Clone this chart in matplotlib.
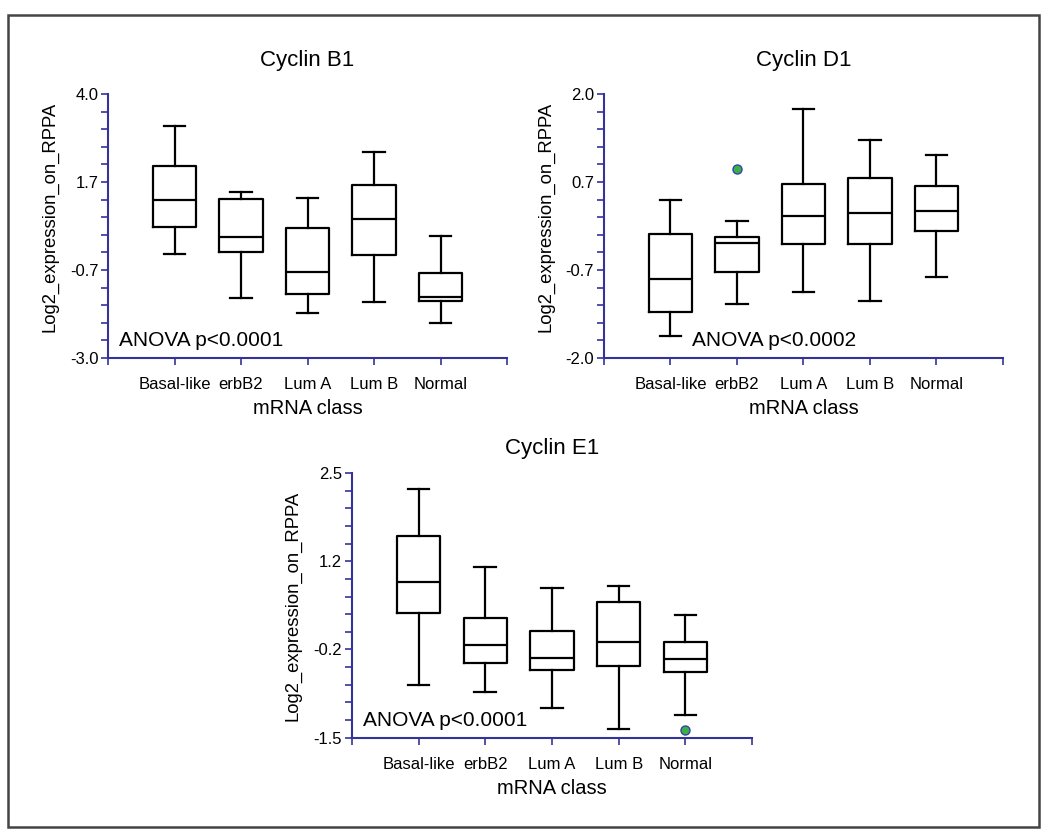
import matplotlib
matplotlib.use("Agg")
import matplotlib.pyplot as plt
from matplotlib.patches import Rectangle
from matplotlib.ticker import FixedLocator, AutoMinorLocator, FormatStrFormatter

plt.rcParams['font.family'] = ['Liberation Sans', 'DejaVu Sans']

categories = ['Basal-like', 'erbB2', 'Lum A', 'Lum B', 'Normal']

# Cyclin B1
b1_lo = [-0.23, -1.40, -1.82, -1.52, -2.07]
b1_q1 = [0.48, -0.20, -1.29, -0.27, -1.49]
b1_med = [1.19, 0.22, -0.71, 0.69, -1.38]
b1_q3 = [2.10, 1.22, 0.45, 1.59, -0.74]
b1_hi = [3.16, 1.39, 1.24, 2.47, 0.24]
b1_fliers = [[], [], [], [], []]

# Cyclin D1
d1_lo = [-1.67, -1.18, -1.00, -1.14, -0.78]
d1_q1 = [-1.31, -0.70, -0.27, -0.27, -0.08]
d1_med = [-0.80, -0.26, 0.15, 0.19, 0.22]
d1_q3 = [-0.12, -0.16, 0.63, 0.73, 0.60]
d1_hi = [0.40, 0.07, 1.77, 1.31, 1.07]
d1_fliers = [[], [0.87], [], [], []]

# Cyclin E1
e1_lo = [-0.71, -0.81, -1.05, -1.37, -1.16]
e1_q1 = [0.38, -0.37, -0.48, -0.42, -0.50]
e1_med = [0.85, -0.10, -0.29, -0.06, -0.31]
e1_q3 = [1.55, 0.31, 0.12, 0.55, -0.05]
e1_hi = [2.26, 1.08, 0.76, 0.80, 0.35]
e1_fliers = [[], [], [], [], [-1.38]]

axis_blue = '#33339a'

# title, stats..., (top, bottom), anova text, anova x, title pad, ylabel y
panels = [
    ('Cyclin B1', b1_lo, b1_q1, b1_med, b1_q3, b1_hi, b1_fliers, (4.0, -3.0), 'ANOVA p<0.0001', 0.028, 20, 0.535),
    ('Cyclin D1', d1_lo, d1_q1, d1_med, d1_q3, d1_hi, d1_fliers, (2.0, -2.0), 'ANOVA p<0.0002', 0.22, 20, 0.535),
    ('Cyclin E1', e1_lo, e1_q1, e1_med, e1_q3, e1_hi, e1_fliers, (2.5, -1.5), 'ANOVA p<0.0001', 0.028, 14, 0.5),
]
rects = [
    [0.1029, 0.5733, 0.380, 0.3147],
    [0.5752, 0.5733, 0.380, 0.3147],
    [0.3352, 0.1207, 0.381, 0.3155],
]

fig = plt.figure(figsize=(10.5, 8.39), dpi=100)
fig.patches.append(Rectangle((0.0075, 0.0145), 0.982, 0.968, transform=fig.transFigure,
                             fill=False, edgecolor='#444444', linewidth=1.8))

for (title, lo, q1, med, q3, hi, fl, (top, bot), anova, ax_x, tpad, ly), rect in zip(panels, rects):
    ax = fig.add_axes(rect)
    stats = []
    for i, c in enumerate(categories):
        stats.append(dict(label=c, whislo=lo[i], q1=q1[i], med=med[i], q3=q3[i],
                          whishi=hi[i], fliers=fl[i]))
    ax.bxp(stats, positions=range(1, 6), widths=0.65, showfliers=True,
           boxprops=dict(color='black', linewidth=1.6),
           medianprops=dict(color='black', linewidth=1.6),
           whiskerprops=dict(color='black', linewidth=1.6),
           capprops=dict(color='black', linewidth=1.6),
           flierprops=dict(marker='o', markerfacecolor='#3cb043', markeredgecolor='#3344aa',
                           markersize=6.5, markeredgewidth=1.0))
    ax.set_xlim(0, 6)
    ax.set_ylim(bot, top)
    step = (top - bot) / 3
    ax.yaxis.set_major_locator(FixedLocator([bot + k * step for k in range(4)]))
    ax.yaxis.set_minor_locator(AutoMinorLocator(5))
    ax.yaxis.set_major_formatter(FormatStrFormatter('%.1f'))
    ax.set_xticks(range(0, 7))
    ax.set_xticklabels([''] + categories + [''])
    for s in ['top', 'right']:
        ax.spines[s].set_visible(False)
    for s in ['left', 'bottom']:
        ax.spines[s].set_color(axis_blue)
        ax.spines[s].set_linewidth(1.5)
    ax.tick_params(axis='both', which='both', color=axis_blue, width=1.2, labelsize=12)
    ax.tick_params(axis='y', which='major', length=5, pad=2)
    ax.tick_params(axis='y', which='minor', length=5)
    ax.tick_params(axis='x', which='major', length=5, pad=9)
    ax.set_title(title, fontsize=16, pad=tpad)
    ax.set_ylabel('Log2_expression_on_RPPA', fontsize=13.3)
    ax.yaxis.set_label_coords(-0.125, ly)
    ax.set_xlabel('mRNA class', fontsize=14.5, labelpad=5)
    ax.text(ax_x, 0.045, anova, transform=ax.transAxes, fontsize=15, va='baseline', ha='left')

fig.savefig('out.png', dpi=100)
